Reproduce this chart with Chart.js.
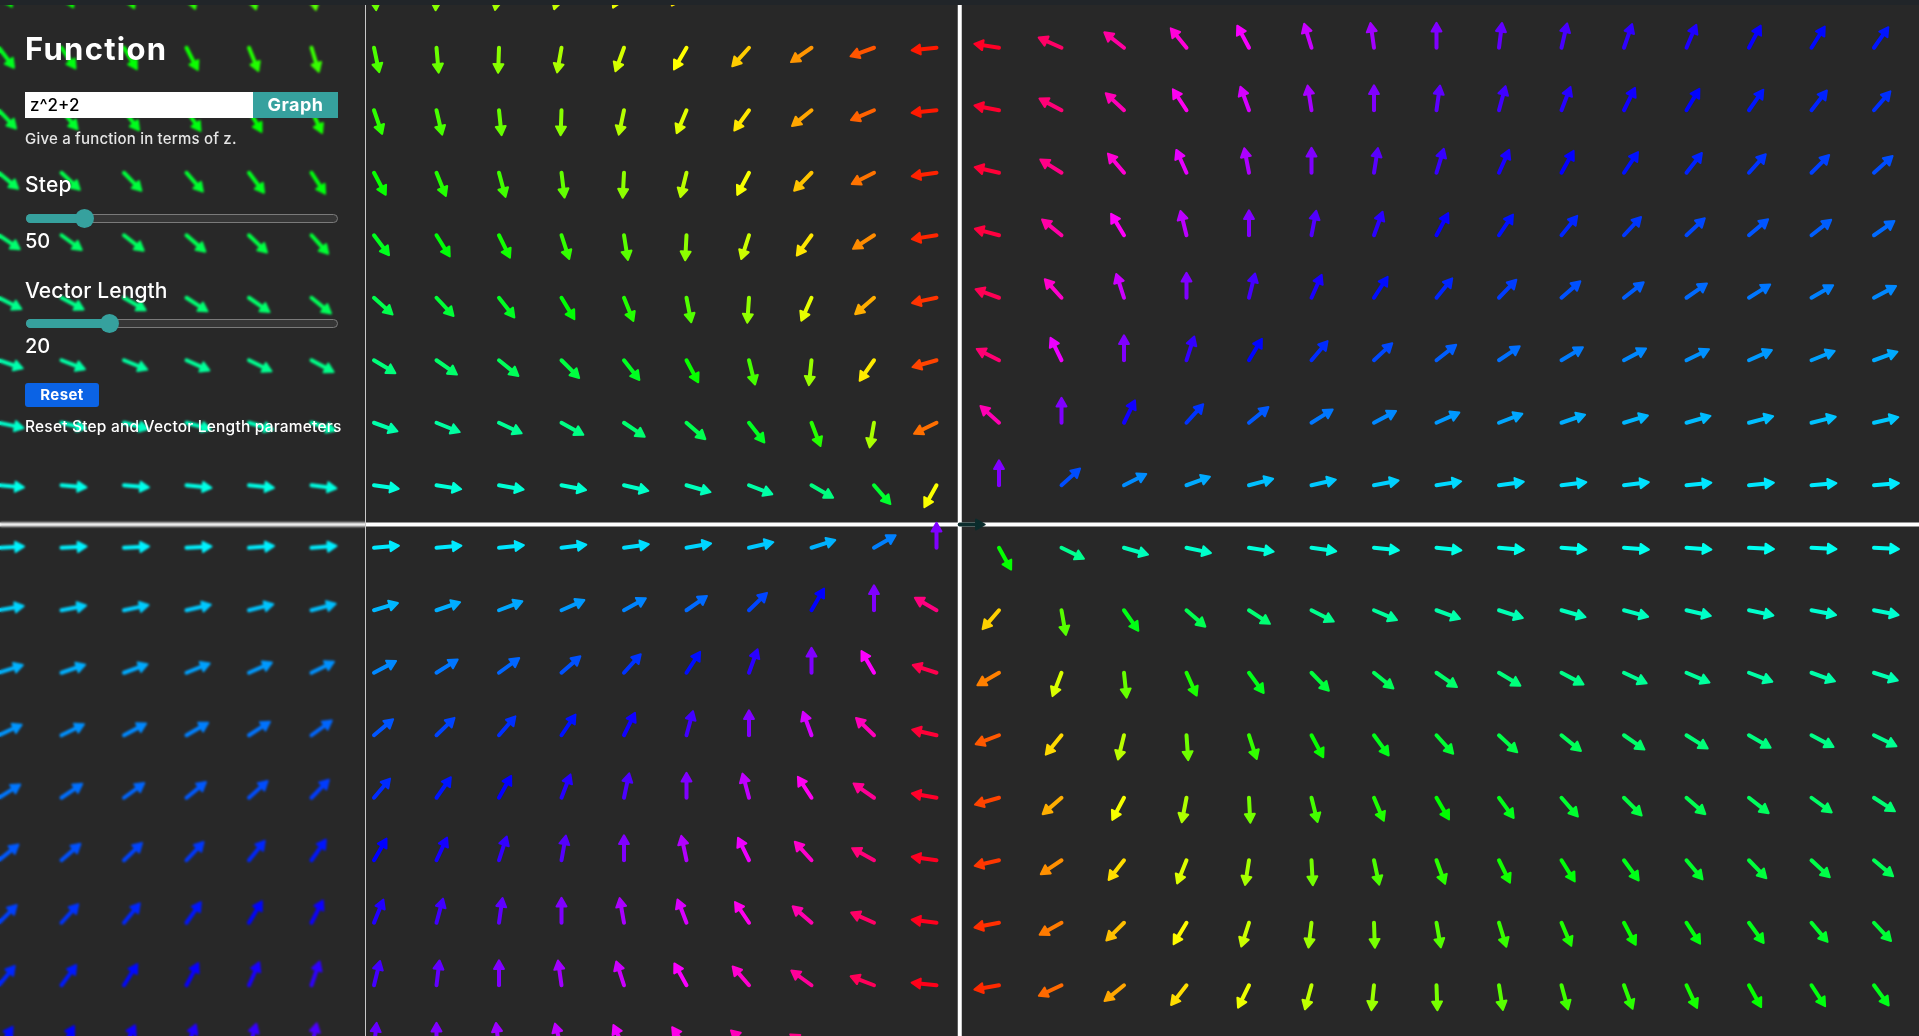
<!DOCTYPE html>
<html>
<head>
<meta charset="utf-8">
<title>Vector field</title>
<script src="https://cdn.jsdelivr.net/npm/chart.js@4.4.1/dist/chart.umd.min.js"></script>
<style>
  html, body { margin: 0; padding: 0; background: #282828; overflow: hidden; }
  body { width: 1919px; height: 1036px; position: relative; font-family: Inter, "Open Sans", sans-serif; color: #fff; }
  #wrap { position: absolute; left: 0; top: 0; width: 1919px; height: 1036px; }
  #topbar { position: absolute; left: 0; top: 0; width: 1919px; height: 5px; background: #212529; z-index: 5; }
  #panel { position: absolute; left: 0; top: 0; width: 365px; height: 1036px; border-right: 1px solid #c8c8c8;
           backdrop-filter: blur(1.1px); -webkit-backdrop-filter: blur(1.1px); z-index: 3; }
  #panel .t { position: absolute; left: 25px; white-space: nowrap; line-height: 1; font-weight: 500; }
  #title { top: 33px; font-size: 31px; font-weight: 700 !important; letter-spacing: 1.3px; }
  #fn { position: absolute; left: 25px; top: 92px; width: 228px; height: 26px; background: #fff; color: #000;
        font-size: 17px; line-height: 26px; box-sizing: border-box; padding-left: 5px; font-weight: 500; }
  #graph { position: absolute; left: 253px; top: 92px; width: 85px; height: 26px; background: #36a19e; color: #fff;
           font-size: 18px; font-weight: 700; line-height: 26px; text-align: center; letter-spacing: 0.5px; }
  #hint { top: 131px; font-size: 15px; color: #e6e6e6; letter-spacing: 0.2px; }
  #stepLbl { top: 174px; font-size: 21px; letter-spacing: 0.2px; }
  #stepVal { top: 231px; font-size: 20px; }
  #lenLbl { top: 280px; font-size: 21px; letter-spacing: 0.1px; }
  #lenVal { top: 336px; font-size: 20px; }
  .track { position: absolute; left: 26px; width: 312px; height: 9px; box-sizing: border-box; border: 1px solid #7a7a7a;
           border-radius: 6px; background: #363636; overflow: visible; }
  .fill { position: absolute; left: -1px; top: -1px; height: 9px; background: #36a19e; border-radius: 6px 0 0 6px; }
  .thumb { position: absolute; top: -6px; width: 19px; height: 19px; margin-left: -9.5px; border-radius: 50%; background: #36a19e; }
  #reset { position: absolute; left: 25px; top: 383px; width: 74px; height: 24px; background: #0b63e5; border-radius: 3px;
           font-size: 15px; font-weight: 700; line-height: 24px; text-align: center; letter-spacing: 0.4px; }
  #resetHint { top: 419px; font-size: 15.5px; letter-spacing: 0.2px; }
</style>
</head>
<body>
<div id="wrap"><canvas id="field"></canvas></div>
<div id="topbar"></div>
<div id="panel">
  <div class="t" id="title">Function</div>
  <div id="fn">z^2+2</div>
  <div id="graph">Graph</div>
  <div class="t" id="hint">Give a function in terms of z.</div>
  <div class="t" id="stepLbl">Step</div>
  <div class="track" style="top:214px"><div class="fill" style="width:59px"></div><div class="thumb" style="left:57px"></div></div>
  <div class="t" id="stepVal">50</div>
  <div class="t" id="lenLbl">Vector Length</div>
  <div class="track" style="top:319px"><div class="fill" style="width:84px"></div><div class="thumb" style="left:82px"></div></div>
  <div class="t" id="lenVal">20</div>
  <div id="reset">Reset</div>
  <div class="t" id="resetHint">Reset Step and Vector Length parameters</div>
</div>
<script>
// grid step and arrow length, in plot units
const STEP = 50;
const VECTOR_LENGTH = 20;

// tail positions of the arrows (plot units, origin in the middle)
const xCols = [-768.6, -718.6, -668.6, -618.6, -568.6, -518.6, -468.6, -418.6, -368.6, -318.6, -268.6, -218.6, -168.6, -118.6, -68.6, -18.6,
               31.4, 81.4, 131.4, 181.4, 231.4, 281.4, 331.4, 381.4, 431.4, 481.4, 531.4, 581.4, 631.4, 681.4, 731.4];
const yRows = [431.4, 381.4, 331.4, 281.4, 231.4, 181.4, 131.4, 81.4, 31.4,
               -18.6, -68.6, -118.6, -168.6, -218.6, -268.6, -318.6, -368.6, -418.6];

// arrow direction per grid cell, degrees counter-clockwise from +x (one list per row, top to bottom)
const angles = [
  [-59, -62, -66, -70, -74, -80, -85, -92, -99, -107, -116, -126, -137, -149, -162, -175, 172, 159, 146, 134, 124, 114, 105, 97, 90, 84, 78, 73, 69, 65, 61],
  [-53, -56, -59, -63, -68, -73, -78, -85, -92, -100, -110, -120, -132, -145, -160, -174, 171, 156, 142, 129, 118, 107, 98, 90, 83, 77, 71, 67, 62, 58, 55],
  [-47, -50, -53, -56, -60, -65, -71, -77, -84, -92, -102, -113, -126, -141, -157, -174, 169, 152, 137, 123, 110, 99, 90, 82, 75, 69, 64, 59, 55, 52, 49],
  [-40, -43, -46, -49, -53, -57, -62, -68, -75, -83, -93, -104, -118, -134, -153, -172, 167, 148, 130, 114, 101, 90, 81, 73, 66, 61, 56, 52, 48, 45, 42],
  [-34, -36, -38, -41, -44, -48, -53, -58, -64, -72, -81, -93, -108, -126, -147, -171, 165, 141, 121, 104, 90, 79, 70, 62, 56, 51, 47, 43, 40, 38, 35],
  [-27, -28, -30, -33, -35, -39, -42, -47, -52, -59, -68, -79, -94, -114, -139, -168, 160, 132, 108, 90, 76, 66, 57, 51, 46, 41, 38, 35, 32, 30, 28],
  [-19, -21, -22, -24, -26, -28, -31, -35, -39, -45, -52, -62, -76, -96, -125, -164, 153, 116, 90, 72, 59, 50, 43, 38, 34, 31, 28, 26, 24, 22, 20],
  [-12, -13, -14, -15, -16, -18, -20, -22, -25, -29, -34, -41, -52, -69, -100, -154, 138, 90, 64, 48, 39, 32, 28, 24, 21, 19, 17, 16, 15, 14, 13],
  [-5, -5, -5, -6, -6, -7, -8, -9, -10, -11, -13, -16, -21, -30, -49, -119, 90, 42, 27, 20, 15, 13, 11, 9, 8, 7, 7, 6, 6, 5, 5],
  [3, 3, 3, 3, 4, 4, 5, 5, 6, 7, 8, 10, 13, 18, 30, 90, -61, -26, -16, -12, -9, -8, -6, -6, -5, -4, -4, -4, -3, -3, -3],
  [10, 11, 12, 13, 14, 15, 17, 19, 21, 24, 29, 35, 44, 60, 90, 150, -131, -80, -55, -41, -33, -27, -23, -20, -18, -16, -15, -13, -12, -11, -11],
  [18, 19, 20, 22, 24, 26, 28, 32, 36, 41, 48, 57, 70, 90, 120, 162, -150, -111, -84, -66, -54, -46, -39, -35, -31, -28, -25, -23, -21, -20, -18],
  [25, 26, 28, 30, 33, 36, 40, 44, 49, 56, 64, 75, 90, 110, 136, 167, -159, -129, -104, -86, -72, -62, -54, -48, -43, -39, -35, -32, -30, -28, -26],
  [32, 34, 36, 39, 42, 46, 50, 55, 61, 69, 78, 90, 105, 123, 145, 170, -164, -139, -118, -101, -87, -76, -67, -60, -54, -49, -45, -41, -38, -36, -33],
  [39, 41, 44, 47, 51, 55, 60, 65, 72, 80, 90, 102, 116, 132, 151, 172, -167, -146, -128, -112, -99, -87, -78, -70, -64, -58, -54, -50, -46, -43, -40],
  [45, 48, 51, 55, 59, 63, 68, 75, 82, 90, 100, 111, 124, 139, 156, 173, -169, -151, -135, -121, -108, -97, -88, -80, -73, -67, -62, -57, -54, -50, -47],
  [51, 54, 58, 62, 66, 71, 76, 83, 90, 98, 108, 119, 131, 144, 159, 174, -170, -155, -141, -128, -116, -105, -96, -88, -81, -75, -70, -65, -61, -57, -54],
  [57, 60, 64, 68, 73, 78, 84, 90, 97, 105, 115, 125, 136, 148, 161, 175, -171, -158, -145, -133, -122, -112, -103, -95, -88, -82, -76, -72, -67, -63, -60]
];

// the vector drawn at the origin itself
const originX = [0];
const originY = [0];
const originAngle = [0];

const fieldPoints = [];
yRows.forEach((yv, r) => {
  xCols.forEach((xv, c) => {
    fieldPoints.push({ x: xv, y: yv, angle: angles[r][c] });
  });
});
const originPoints = originX.map((xv, i) => ({ x: xv, y: originY[i], angle: originAngle[i] }));

function drawArrow(ctx, x, y, deg, len, color) {
  const a = -deg * Math.PI / 180;
  const cx = Math.cos(a), sy = Math.sin(a);
  const tx = x + len * cx, ty = y + len * sy;
  ctx.strokeStyle = color;
  ctx.fillStyle = color;
  ctx.lineCap = 'round';
  ctx.lineJoin = 'round';
  ctx.lineWidth = 4;
  ctx.beginPath();
  ctx.moveTo(x, y);
  ctx.lineTo(tx - 5 * cx, ty - 5 * sy);
  ctx.stroke();
  const h = 10, w = 0.52;
  ctx.lineWidth = 2;
  ctx.beginPath();
  ctx.moveTo(tx, ty);
  ctx.lineTo(tx - h * Math.cos(a - w), ty - h * Math.sin(a - w));
  ctx.lineTo(tx - h * Math.cos(a + w), ty - h * Math.sin(a + w));
  ctx.closePath();
  ctx.fill();
  ctx.stroke();
}

const fieldPlugin = {
  id: 'field',
  beforeDatasetsDraw(chart) {
    const ctx = chart.ctx;
    const xs = chart.scales.x, ys = chart.scales.y;
    const x0 = xs.getPixelForValue(0), y0 = ys.getPixelForValue(0);
    ctx.save();
    ctx.strokeStyle = '#ffffff';
    ctx.lineWidth = 4;
    ctx.beginPath();
    ctx.moveTo(x0, 0); ctx.lineTo(x0, chart.height);
    ctx.moveTo(0, y0); ctx.lineTo(chart.width, y0);
    ctx.stroke();
    ctx.restore();
  },
  afterDatasetsDraw(chart) {
    const ctx = chart.ctx;
    const xs = chart.scales.x;
    const len = xs.getPixelForValue(VECTOR_LENGTH) - xs.getPixelForValue(0);
    ctx.save();
    chart.data.datasets.forEach((ds, i) => {
      const meta = chart.getDatasetMeta(i);
      meta.data.forEach((pt, j) => {
        const deg = ds.data[j].angle;
        const color = ds.arrowColor ? ds.arrowColor : 'hsl(' + (180 + deg) + ', 100%, 50%)';
        drawArrow(ctx, pt.x, pt.y, deg, len, color);
      });
    });
    ctx.restore();
  }
};

const ctx = document.getElementById('field').getContext('2d');
const chart = new Chart(ctx, {
  type: 'scatter',
  data: {
    datasets: [
      { label: 'z^2+2', data: fieldPoints, pointRadius: 0, pointHoverRadius: 0 },
      { label: 'origin', data: originPoints, pointRadius: 0, pointHoverRadius: 0, arrowColor: '#0b2c2c' }
    ]
  },
  options: {
    responsive: true,
    maintainAspectRatio: false,
    animation: false,
    events: [],
    layout: { padding: 0 },
    plugins: { legend: { display: false }, tooltip: { enabled: false } },
    scales: {
      x: { type: 'linear', min: -767.8, max: 767.4, display: false },
      y: { type: 'linear', min: -409.2, max: 419.6, display: false }
    }
  },
  plugins: [fieldPlugin]
});
</script>
</body>
</html>
